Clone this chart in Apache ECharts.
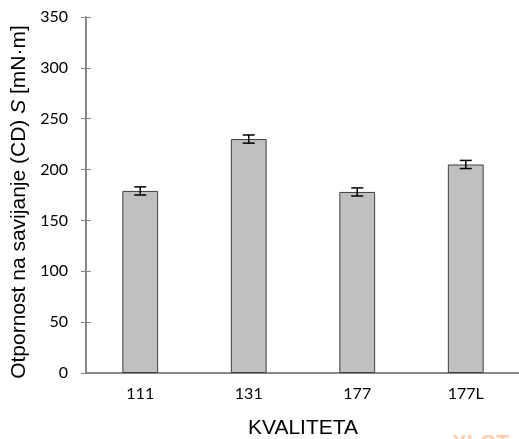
<!DOCTYPE html>
<html><head><meta charset="utf-8">
<script src="https://cdn.jsdelivr.net/npm/echarts@6/dist/echarts.min.js"></script>
<style>html,body{margin:0;padding:0;background:#fff}#c{width:519px;height:439px}</style>
</head><body><div id="c"></div>
<script>
const categories = ['111', '131', '177', '177L'];
const values = [179, 230, 178, 205];
const errors = [4, 4, 4, 4];
const yTicks = [0, 50, 100, 150, 200, 250, 300, 350];

const chart = echarts.init(document.getElementById('c'), null, {renderer: 'canvas'});
const axisColor = '#878787';
const grid = {left: 86, right: -1, top: 17, bottom: 66, outerBoundsMode: 'none', containLabel: false};
chart.setOption({
  animation: false,
  grid: grid,
  xAxis: [{
    type: 'category', data: categories, position: 'bottom',
    axisLine: {lineStyle: {color: axisColor, width: 2}},
    axisTick: {length: 5, lineStyle: {color: axisColor, width: 1}},
    axisLabel: {color: '#000', fontFamily: 'Lato', fontSize: 16, margin: 13},
    name: 'KVALITETA', nameLocation: 'middle', nameGap: 45,
    nameTextStyle: {fontFamily: 'Liberation Sans', fontSize: 21, color: '#000'}
  }, {
    type: 'category', data: categories, position: 'bottom',
    axisLine: {show: false},
    axisTick: {inside: true, length: 5, lineStyle: {color: axisColor, width: 1}},
    axisLabel: {show: false}
  }],
  yAxis: [{
    type: 'value', min: 0, max: 350, interval: 50,
    axisLine: {show: true, lineStyle: {color: axisColor, width: 2}},
    axisTick: {show: true, length: 5, lineStyle: {color: axisColor, width: 1}},
    splitLine: {show: false},
    axisLabel: {color: '#000', fontFamily: 'Lato', fontSize: 16, margin: 18,
      formatter: v => yTicks.includes(v) ? String(v) : ''},
    name: '{a|Otpornost na savijanje (CD) }{i|S}{a| [mN·m]}',
    nameLocation: 'middle', nameGap: 50, nameRotate: 90,
    nameTextStyle: {
      padding: [0, 14, 0, 0],
      rich: {
        a: {fontFamily: 'Liberation Sans', fontSize: 21, color: '#000'},
        i: {fontFamily: 'Liberation Sans', fontSize: 21, color: '#000', fontStyle: 'italic'}
      }
    }
  }, {
    type: 'value', min: 0, max: 350, interval: 50, position: 'left',
    axisLine: {show: false},
    axisTick: {show: true, inside: true, length: 5, lineStyle: {color: axisColor, width: 1}},
    splitLine: {show: false},
    axisLabel: {show: false}
  }],
  series: [{
    type: 'bar', data: values, barWidth: '33%',
    itemStyle: {color: '#c0c0c0', borderColor: '#3f3f3f', borderWidth: 1}
  }, {
    type: 'custom',
    data: values.map((v, i) => [i, v, errors[i]]),
    renderItem: function (params, api) {
      const x = api.value(0), v = api.value(1), e = api.value(2);
      const hi = api.coord([x, v + e]);
      const lo = api.coord([x, v - e]);
      const w = 6;
      const st = {stroke: '#000', lineWidth: 1.5};
      return {type: 'group', children: [
        {type: 'line', shape: {x1: hi[0], y1: hi[1], x2: lo[0], y2: lo[1]}, style: st},
        {type: 'line', shape: {x1: hi[0] - w, y1: hi[1], x2: hi[0] + w, y2: hi[1]}, style: st},
        {type: 'line', shape: {x1: lo[0] - w, y1: lo[1], x2: lo[0] + w, y2: lo[1]}, style: st}
      ]};
    },
    z: 5
  }],
  graphic: [{
    type: 'text', left: 452, top: 433,
    style: {text: 'XLCT', fontFamily: 'Liberation Sans', fontWeight: 'bold', fontSize: 22, fill: '#fbcfad'}
  }]
});
</script></body></html>
